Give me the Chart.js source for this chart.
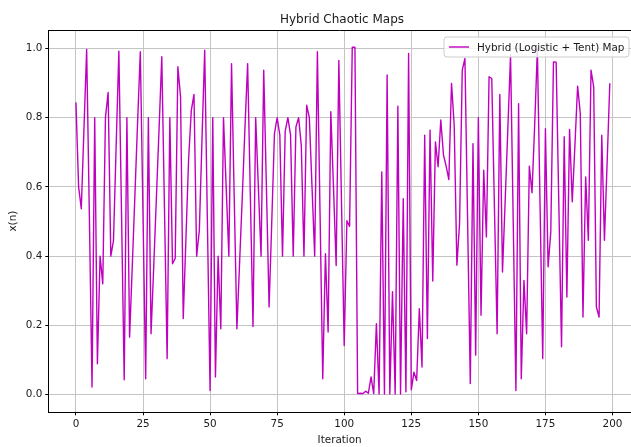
<!DOCTYPE html>
<html>
<head>
<meta charset="utf-8">
<script src="https://cdn.jsdelivr.net/npm/chart.js@4.4.1/dist/chart.umd.min.js"></script>
<style>
  html, body { margin: 0; padding: 0; background: #ffffff; }
  #wrap { width: 631px; height: 447px; position: relative; }
</style>
</head>
<body>
<div id="wrap"><canvas id="c"></canvas></div>
<script>
const chartTitle = "Hybrid Chaotic Maps";
const seriesLabel = "Hybrid (Logistic + Tent) Map";
const xAxisTitle = "Iteration";
const yAxisTitle = "x(n)";
const xTicks = [0, 25, 50, 75, 100, 125, 150, 175, 200];
const xTickLabels = ["0", "25", "50", "75", "100", "125", "150", "175", "200"];
const yTicks = [0.0, 0.2, 0.4, 0.6, 0.8, 1.0];
const yTickLabels = ["0.0", "0.2", "0.4", "0.6", "0.8", "1.0"];

// x(n) for iterations 0..199
const values = [
  0.844, 0.60, 0.537, 0.77, 0.997, 0.52, 0.022, 0.80, 0.089, 0.40,
  0.32, 0.80, 0.873, 0.40, 0.445, 0.72, 0.992, 0.52, 0.043, 0.80,
  0.166, 0.37, 0.58, 0.79, 0.99, 0.52, 0.046, 0.80, 0.176, 0.37,
  0.57, 0.77, 0.976, 0.54, 0.104, 0.80, 0.378, 0.393, 0.947, 0.86,
  0.22, 0.45, 0.68, 0.82, 0.867, 0.40, 0.475, 0.74, 0.995, 0.50,
  0.012, 0.80, 0.051, 0.40, 0.19, 0.80, 0.60, 0.40, 0.956, 0.57,
  0.19, 0.38, 0.57, 0.77, 0.956, 0.58, 0.197, 0.80, 0.60, 0.40,
  0.937, 0.60, 0.253, 0.50, 0.754, 0.80, 0.75, 0.40, 0.76, 0.80,
  0.75, 0.40, 0.773, 0.80, 0.72, 0.40, 0.836, 0.80, 0.60, 0.40,
  0.99, 0.52, 0.046, 0.407, 0.181, 0.817, 0.60, 0.373, 0.965, 0.55,
  0.142, 0.502, 0.486, 1.003, 1.003, 0.003, 0.004, 0.003, 0.010, 0.004,
  0.051, 0.003, 0.205, 0.002, 0.643, 0.002, 0.923, 0.002, 0.297, 0.002,
  0.833, 0.002, 0.566, 0.008, 0.985, 0.014, 0.065, 0.041, 0.248, 0.080,
  0.749, 0.162, 0.764, 0.328, 0.730, 0.658, 0.793, 0.692, 0.660, 0.621,
  0.899, 0.778, 0.374, 0.494, 0.937, 0.971, 0.50, 0.032, 0.725, 0.114,
  0.80, 0.229, 0.648, 0.455, 0.918, 0.913, 0.54, 0.176, 0.867, 0.354,
  0.56, 0.77, 0.98, 0.50, 0.012, 0.84, 0.046, 0.33, 0.176, 0.66,
  0.583, 0.78, 0.997, 0.55, 0.104, 0.768, 0.369, 0.47, 0.961, 0.96,
  0.55, 0.138, 0.745, 0.282, 0.766, 0.557, 0.72, 0.891, 0.812, 0.224,
  0.629, 0.446, 0.937, 0.889, 0.253, 0.224, 0.749, 0.446, 0.67, 0.899
];
const iterations = values.map((v, i) => i);

const lineColor = "#bf00bf";
const textColor = "#1a1a1a";
const gridColor = "#c4c4c4";
const fontFamily = "'DejaVu Sans', 'Liberation Sans', sans-serif";

const decorPlugin = {
  id: "decor",
  afterDraw(chart) {
    const ctx = chart.ctx;
    const a = chart.chartArea;
    ctx.save();
    // top spine
    ctx.strokeStyle = "#000";
    ctx.lineWidth = 1;
    ctx.beginPath();
    ctx.moveTo(a.left, Math.round(a.top) + 0.5);
    ctx.lineTo(a.right, Math.round(a.top) + 0.5);
    ctx.stroke();
    // title
    ctx.fillStyle = textColor;
    ctx.font = "12px " + fontFamily;
    ctx.textAlign = "center";
    ctx.textBaseline = "alphabetic";
    ctx.fillText(chartTitle, 342, 22.5);
    // legend box
    const bx = 444, by = 37, bw = 185, bh = 20, r = 3;
    ctx.beginPath();
    ctx.moveTo(bx + r, by);
    ctx.lineTo(bx + bw - r, by);
    ctx.arcTo(bx + bw, by, bx + bw, by + r, r);
    ctx.lineTo(bx + bw, by + bh - r);
    ctx.arcTo(bx + bw, by + bh, bx + bw - r, by + bh, r);
    ctx.lineTo(bx + r, by + bh);
    ctx.arcTo(bx, by + bh, bx, by + bh - r, r);
    ctx.lineTo(bx, by + r);
    ctx.arcTo(bx, by, bx + r, by, r);
    ctx.closePath();
    ctx.fillStyle = "rgba(255,255,255,0.8)";
    ctx.fill();
    ctx.strokeStyle = "#cccccc";
    ctx.lineWidth = 1;
    ctx.stroke();
    ctx.strokeStyle = lineColor;
    ctx.lineWidth = 1.4;
    ctx.beginPath();
    ctx.moveTo(449, 47);
    ctx.lineTo(469, 47);
    ctx.stroke();
    ctx.fillStyle = textColor;
    ctx.font = "10.4px " + fontFamily;
    ctx.textAlign = "left";
    ctx.fillText(seriesLabel, 477, 50.5);
    ctx.restore();
  }
};

new Chart(document.getElementById("c"), {
  type: "line",
  data: {
    datasets: [{
      label: seriesLabel,
      data: iterations.map((x, i) => ({ x: x, y: values[i] })),
      borderColor: lineColor,
      backgroundColor: lineColor,
      borderWidth: 1.4,
      borderJoinStyle: "round",
      pointRadius: 0,
      tension: 0,
      fill: false
    }]
  },
  options: {
    responsive: true,
    maintainAspectRatio: false,
    animation: false,
    layout: { padding: { top: 30, right: 0, bottom: 0, left: 0 } },
    plugins: { legend: { display: false }, title: { display: false }, tooltip: { enabled: false } },
    scales: {
      x: {
        type: "linear",
        min: -10.3,
        max: 206.9,
        afterBuildTicks: (s) => { s.ticks = xTicks.map(v => ({ value: v })); },
        afterFit: (s) => { s.height = 34.7; },
        ticks: {
          autoSkip: false, maxRotation: 0, padding: 3,
          color: textColor, font: { family: fontFamily, size: 10.4 },
          callback: (v, i) => xTickLabels[i]
        },
        grid: { color: gridColor, lineWidth: 1, tickColor: "#000", tickLength: 3, tickWidth: 1 },
        border: { display: true, color: "#000", width: 1 },
        title: { display: true, text: xAxisTitle, color: textColor,
                 font: { family: fontFamily, size: 10.4 }, padding: { top: 0, bottom: 0 } }
      },
      y: {
        type: "linear",
        min: -0.051,
        max: 1.053,
        afterBuildTicks: (s) => { s.ticks = yTicks.map(v => ({ value: v })); },
        afterFit: (s) => { s.width = 48.3; },
        ticks: {
          autoSkip: false, padding: 3,
          color: textColor, font: { family: fontFamily, size: 10.4 },
          callback: (v, i) => yTickLabels[i]
        },
        grid: { color: gridColor, lineWidth: 1, tickColor: "#000", tickLength: 3, tickWidth: 1 },
        border: { display: true, color: "#000", width: 1 },
        title: { display: true, text: yAxisTitle, color: textColor,
                 font: { family: fontFamily, size: 10.4 }, padding: { top: 7, bottom: 0 } }
      }
    }
  },
  plugins: [decorPlugin]
});
</script>
</body>
</html>
